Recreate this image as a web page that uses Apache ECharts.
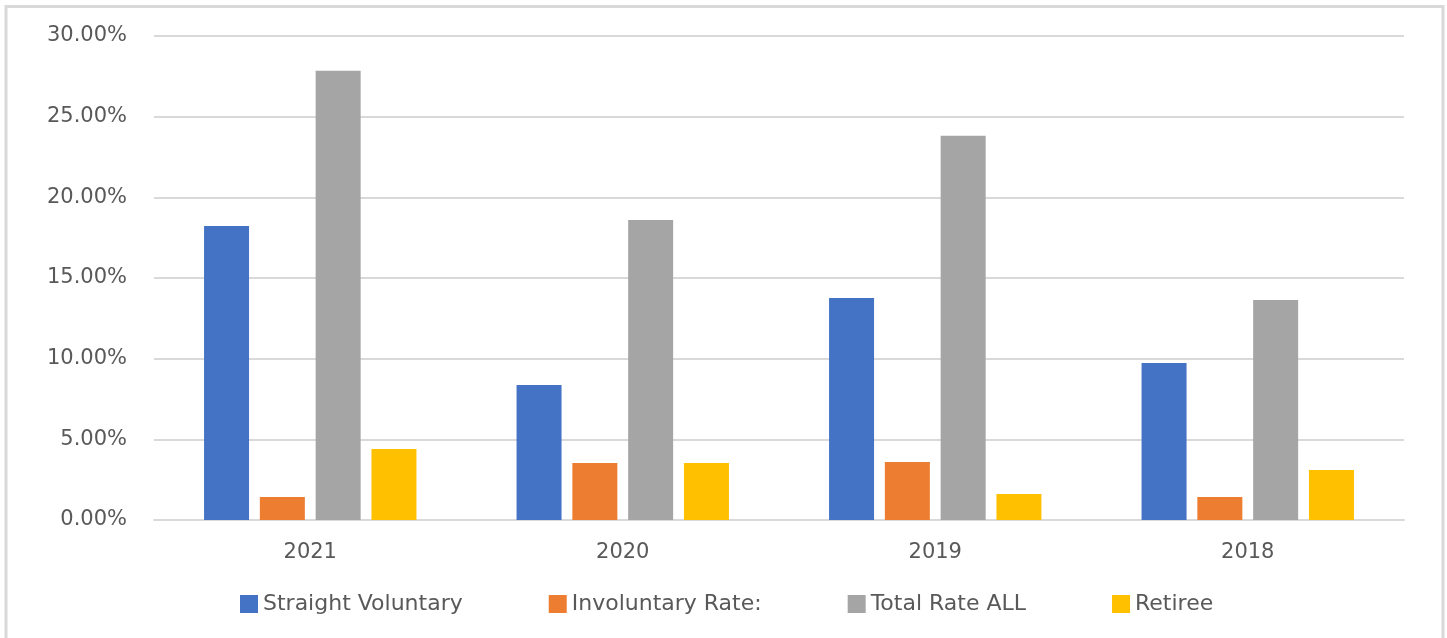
<!DOCTYPE html>
<html>
<head>
<meta charset="utf-8">
<title>Rates</title>
<script src="https://cdn.jsdelivr.net/npm/echarts@6/dist/echarts.min.js"></script>
<style>
  html, body { margin: 0; padding: 0; background: #fff; }
  #chart { width: 1447px; height: 638px; }
</style>
</head>
<body>
<div id="chart"></div>
<script>
// categories + series (percent values)
var years = ['2021', '2020', '2019', '2018'];
var seriesNames = ['Straight Voluntary', 'Involuntary Rate:', 'Total Rate ALL', 'Retiree'];
var straightVoluntary = [18.23, 8.37, 13.76, 9.73];
var involuntaryRate = [1.43, 3.53, 3.60, 1.43];
var totalRateAll = [27.84, 18.60, 23.81, 13.64];
var retiree = [4.40, 3.53, 1.61, 3.10];
var colors = ['#4472C4', '#ED7D31', '#A5A5A5', '#FFC000'];

var textColor = '#595959';
var font = 'DejaVu Sans';

var chart = echarts.init(document.getElementById('chart'));

var seriesData = [straightVoluntary, involuntaryRate, totalRateAll, retiree];
var series = [];
for (var i = 0; i < seriesNames.length; i++) {
  series.push({
    name: seriesNames[i],
    type: 'bar',
    data: seriesData[i],
    barWidth: 45,
    barGap: '24%',
    itemStyle: { color: colors[i] }
  });
}

chart.setOption({
  animation: false,
  color: colors,
  grid: { left: 154, right: 43, top: 36, bottom: 118 },
  graphic: [{
    type: 'rect',
    shape: { x: 6, y: 6.5, width: 1437, height: 700 },
    style: { fill: 'none', stroke: '#d9d9d9', lineWidth: 3 },
    z: -1
  }],
  legend: {
    data: seriesNames,
    left: 240,
    top: 593,
    padding: 0,
    itemWidth: 18,
    itemHeight: 18,
    itemGap: 86,
    icon: 'rect',
    textStyle: { color: textColor, fontSize: 22, fontFamily: font }
  },
  xAxis: {
    type: 'category',
    data: years,
    axisLine: { lineStyle: { color: '#d9d9d9', width: 2 } },
    axisTick: { show: false },
    axisLabel: { color: textColor, fontSize: 21, fontFamily: font, margin: 22 }
  },
  yAxis: {
    type: 'value',
    min: 0,
    max: 30,
    interval: 5,
    axisLine: { show: false },
    axisTick: { show: false },
    splitLine: { lineStyle: { color: '#d9d9d9', width: 2 } },
    axisLabel: {
      color: textColor, fontSize: 21, fontFamily: font, margin: 27,
      formatter: function (v) { return v.toFixed(2) + '%'; }
    }
  },
  series: series
});
</script>
</body>
</html>
